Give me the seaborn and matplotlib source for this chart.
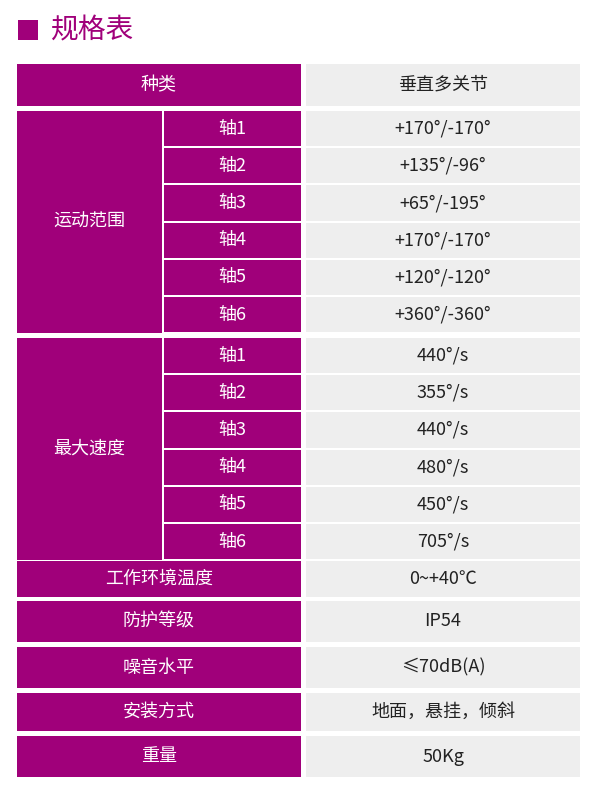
import matplotlib.pyplot as plt
import seaborn as sns
from matplotlib.patches import Rectangle

sns.set_theme(style="white")
plt.rcParams["font.family"] = "Noto Sans CJK SC"

title = "规格表"
head_label = "种类"
head_value = "垂直多关节"
group_names = ["运动范围", "最大速度"]
axes_names = ["轴1", "轴2", "轴3", "轴4", "轴5", "轴6"]
motion_range = ["+170°/-170°", "+135°/-96°", "+65°/-195°",
                "+170°/-170°", "+120°/-120°", "+360°/-360°"]
max_speed = ["440°/s", "355°/s", "440°/s", "480°/s", "450°/s", "705°/s"]
other_labels = ["工作环境温度", "防护等级", "噪音水平", "安装方式", "重量"]
other_values = ["0~+40℃", "IP54", "≤70dB(A)", "地面，悬挂，倾斜", "50Kg"]

PURPLE = "#a0007a"
GREY = "#eeeeee"

fig = plt.figure(figsize=(6, 7.96), dpi=100)
ax = fig.add_axes([0, 0, 1, 1])
ax.set_xlim(0, 600)
ax.set_ylim(796, 0)
ax.axis("off")

# title
ax.add_patch(Rectangle((18, 20), 20, 20, color=PURPLE, lw=0))
ax.text(50, 30, title, fontsize=20, color=PURPLE, va="center", ha="left")

L0, L1, S0, R0, R1 = 17, 301, 164, 306, 580
FS = 13


def cell(x0, x1, y0, y1, color, txt, tcolor):
    ax.add_patch(Rectangle((x0, y0), x1 - x0, y1 - y0, color=color, lw=0))
    ax.text((x0 + x1) / 2, (y0 + y1) / 2, txt, fontsize=FS, color=tcolor,
            ha="center", va="center")


cell(L0, L1, 64, 106, PURPLE, head_label, "white")
cell(R0, R1, 64, 106, GREY, head_value, "#222222")

for g, (gy, vals) in enumerate(zip([111, 338], [motion_range, max_speed])):
    h = 37.2
    cell(L0, S0 - 2, gy, gy + 6 * h - 1, PURPLE, group_names[g], "white")
    for i, (name, v) in enumerate(zip(axes_names, vals)):
        y0 = gy + i * h
        cell(S0, L1, y0, y0 + h - 2, PURPLE, name, "white")
        cell(R0, R1, y0, y0 + h - 2, GREY, v, "#222222")

other_rows = [(561, 597), (601, 642), (647, 688), (693, 731), (736, 777)]
for (y0, y1), lab, v in zip(other_rows, other_labels, other_values):
    cell(L0, L1, y0, y1, PURPLE, lab, "white")
    cell(R0, R1, y0, y1, GREY, v, "#222222")

fig.savefig("out.png", dpi=100)
